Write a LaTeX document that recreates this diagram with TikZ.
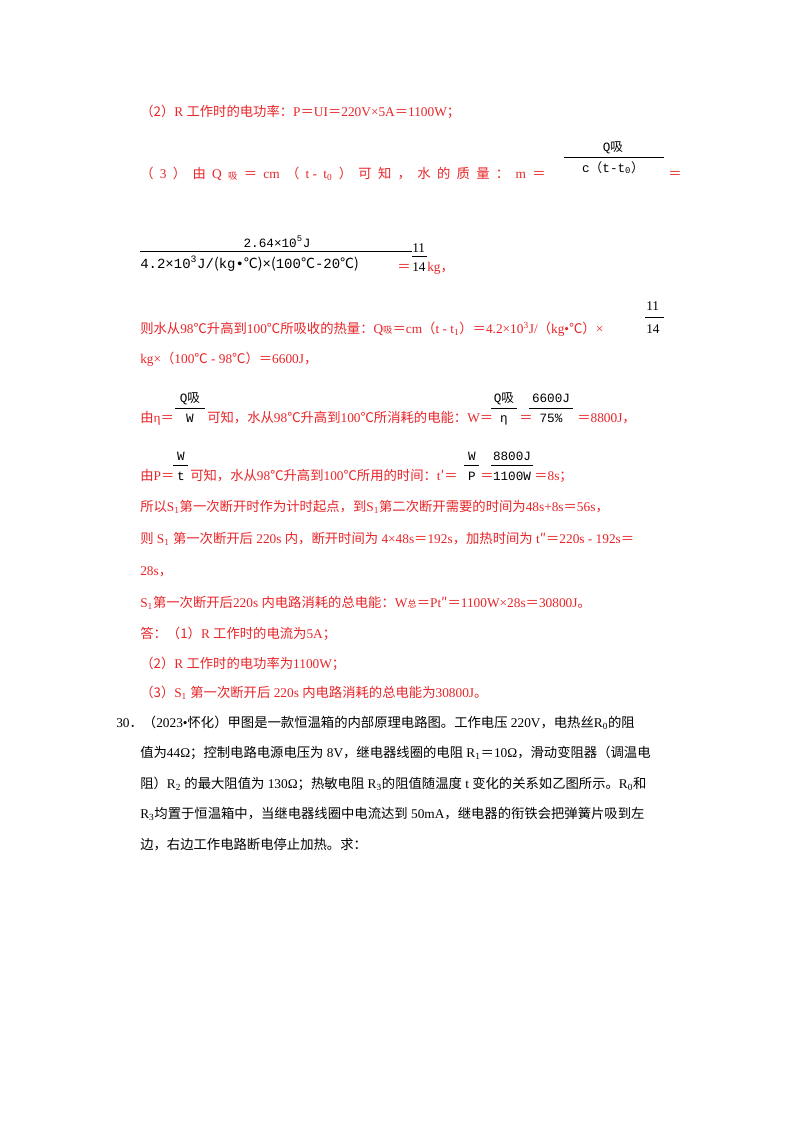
\documentclass[tikz,border=0pt]{standalone}
\usepackage{fontspec}
\setmainfont{Liberation Serif}
\setmonofont{Liberation Mono}
\newfontfamily\cjk{Noto Sans CJK SC}
\newcommand{\zh}[1]{{\cjk #1}}
\definecolor{ansred}{RGB}{232,36,40}
\tikzset{
  txt/.style={anchor=base west,inner sep=0pt,font=\fontsize{10}{12}\selectfont},
  ans/.style={txt,text=ansred},
  frc/.style={anchor=base,inner sep=0pt,font=\fontsize{9.5}{11}\selectfont\ttfamily},
  bar/.style={line width=0.5pt}
}
\begin{document}
\begin{tikzpicture}[x=0.75pt,y=-0.75pt]
  \useasboundingbox (0,0) rectangle (800,1132);
  % part (2)
  \node[ans] (l1) at (140,116) {\zh{（2）}R \zh{工作时的电功率：}P\zh{＝}UI\zh{＝}220V×5A\zh{＝}1100W\zh{；}};
  % part (3)
  \node[ans] (l2) at (140,178) {\makebox[304pt][s]{\zh{（}\hfill3\hfill\zh{）}\hfill\zh{由}\hfill Q\hfill\raisebox{-1pt}{\zh{\scriptsize 吸}}\hfill\zh{＝}\hfill cm\hfill\zh{（}\hfill t -\hfill t\textsubscript{0}\hfill\zh{）}\hfill\zh{可}\hfill\zh{知}\hfill\zh{，}\hfill\zh{水}\hfill\zh{的}\hfill\zh{质}\hfill\zh{量}\hfill\zh{：}\hfill m\hfill\zh{＝}}};
  \node[frc] (f1n) at (613,151) {Q\zh{吸}};
  \draw[bar] (564,157) -- (664,157);
  \node[frc] (f1d) at (613,172) {c\zh{（}t-t\textsubscript{0}\zh{）}};
  \node[ans] (l2e) at (668,178) {\zh{＝}};
  % big fraction
  \node[frc] (f2n) at (277,247) {2.64×10\textsuperscript{5}J};
  \draw[bar] (140,251) -- (412,251);
  \node[frc,anchor=base west,font=\fontsize{10.5}{12}\selectfont\ttfamily] (f2d) at (140,268) {4.2×10\textsuperscript{3}J/\zh{(}kg•\zh{℃)}×\zh{(}100\zh{℃}-20\zh{℃)}};
  \node[ans] (eq2) at (397,271) {\zh{＝}};
  \node[txt] (n11) at (412,252) {11};
  \draw[bar] (412,256) -- (427,256);
  \node[txt] (n14) at (412,271) {14};
  \node[ans] (kg) at (427,271) {kg\zh{，}};
  % heat absorbed
  \node[ans] (l5) at (140,333) {\zh{则水从}98\zh{℃升高到}100\zh{℃所吸收的热量：}Q\zh{\scriptsize 吸}\zh{＝}cm\zh{（}t - t\textsubscript{1}\zh{）＝}4.2×10\textsuperscript{3}J/\zh{（}kg•\zh{℃）}×};
  \node[txt] (m11) at (646,310) {11};
  \draw[bar] (645,317) -- (664,317);
  \node[txt] (m14) at (646,333) {14};
  \node[ans] (l6) at (140,363) {kg×\zh{（}100\zh{℃} - 98\zh{℃）＝}6600J\zh{，}};
  % efficiency
  \node[ans] (l7a) at (140,422) {\zh{由}η\zh{＝}};
  \node[frc] (f3n) at (190,402) {Q\zh{吸}};
  \draw[bar] (175,408) -- (205,408);
  \node[frc] (f3d) at (190,422) {W};
  \node[ans] (l7b) at (207,422) {\zh{可知，水从}98\zh{℃升高到}100\zh{℃所消耗的电能：}W\zh{＝}};
  \node[frc] (f4n) at (504,402) {Q\zh{吸}};
  \draw[bar] (491,408) -- (517,408);
  \node[frc] (f4d) at (504,422) {η};
  \node[ans] (l7c) at (519,422) {\zh{＝}};
  \node[frc] (f5n) at (551,402) {6600J};
  \draw[bar] (529,408) -- (573,408);
  \node[frc] (f5d) at (551,422) {75\%};
  \node[ans] (l7d) at (577,422) {\zh{＝}8800J\zh{，}};
  % time
  \node[ans] (l8a) at (140,480) {\zh{由}P\zh{＝}};
  \node[frc] (f6n) at (181,460) {W};
  \draw[bar] (173,465) -- (188,465);
  \node[frc] (f6d) at (181,480) {t};
  \node[ans] (l8b) at (190,480) {\zh{可知，水从}98\zh{℃升高到}100\zh{℃所用的时间：}t\zh{′＝}};
  \node[frc] (f7n) at (472,460) {W};
  \draw[bar] (464,465) -- (479,465);
  \node[frc] (f7d) at (472,480) {P};
  \node[ans] (l8c) at (480,480) {\zh{＝}};
  \node[frc] (f8n) at (512,460) {8800J};
  \draw[bar] (491,465) -- (533,465);
  \node[frc] (f8d) at (512,480) {1100W};
  \node[ans] (l8d) at (534,480) {\zh{＝}8s\zh{；}};
  % remaining lines
  \node[ans] (l9) at (140,511) {\zh{所以}S\textsubscript{1}\zh{第一次断开时作为计时起点，到}S\textsubscript{1}\zh{第二次断开需要的时间为}48s+8s\zh{＝}56s\zh{，}};
  \node[ans] (l10) at (140,543) {\zh{则} S\textsubscript{1} \zh{第一次断开后} 220s \zh{内，断开时间为} 4×48s\zh{＝}192s\zh{，加热时间为} t\zh{″＝}220s - 192s\zh{＝}};
  \node[ans] (l11) at (140,575) {28s\zh{，}};
  \node[ans] (l12) at (140,607) {S\textsubscript{1}\zh{第一次断开后}220s \zh{内电路消耗的总电能：}W\zh{\scriptsize 总}\zh{＝}Pt\zh{″＝}1100W×28s\zh{＝}30800J\zh{。}};
  \node[ans] (l13) at (140,638) {\zh{答：（1）}R \zh{工作时的电流为}5A\zh{；}};
  \node[ans] (l14) at (140,668) {\zh{（2）}R \zh{工作时的电功率为}1100W\zh{；}};
  \node[ans] (l15) at (140,697) {\zh{（3）}S\textsubscript{1} \zh{第一次断开后} 220s \zh{内电路消耗的总电能为}30800J\zh{。}};
  % question 30
  \node[txt] (q1) at (116,727) {30\zh{．（}2023•\zh{怀化）甲图是一款恒温箱的内部原理电路图。工作电压} 220V\zh{，电热丝}R\textsubscript{0}\zh{的阻}};
  \node[txt] (q2) at (140,757) {\zh{值为}44Ω\zh{；控制电路电源电压为} 8V\zh{，继电器线圈的电阻} R\textsubscript{1}\zh{＝}10Ω\zh{，滑动变阻器（调温电}};
  \node[txt] (q3) at (140,788) {\zh{阻）}R\textsubscript{2} \zh{的最大阻值为} 130Ω\zh{；热敏电阻} R\textsubscript{3}\zh{的阻值随温度} t \zh{变化的关系如乙图所示。}R\textsubscript{0}\zh{和}};
  \node[txt] (q4) at (140,818) {R\textsubscript{3}\zh{均置于恒温箱中，当继电器线圈中电流达到} 50mA\zh{，继电器的衔铁会把弹簧片吸到左}};
  \node[txt] (q5) at (140,849) {\zh{边，右边工作电路断电停止加热。求：}};
\end{tikzpicture}
\end{document}
